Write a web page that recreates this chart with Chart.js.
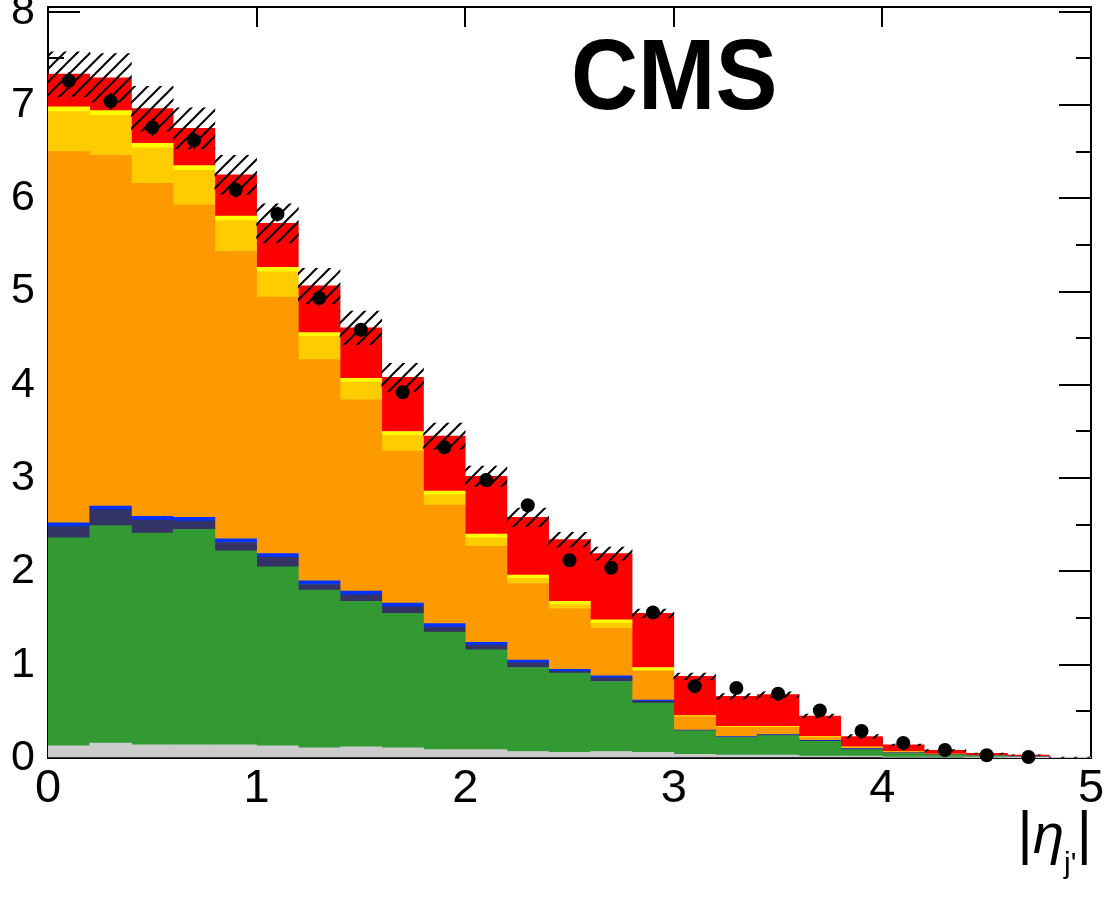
<!DOCTYPE html>
<html>
<head>
<meta charset="utf-8">
<script src="https://cdn.jsdelivr.net/npm/chart.js@4.4.0/dist/chart.umd.min.js"></script>
<style>
  html, body { margin: 0; padding: 0; background: #fff; }
  #wrap { position: relative; width: 1104px; height: 897px; overflow: hidden; }
  #cms {
    position: absolute; left: 571px; top: 24px;
    font: bold 101px "Liberation Sans", Arial, sans-serif; line-height: 101px;
    transform: scaleX(0.92); transform-origin: left top; white-space: nowrap;
  }
  #xtitle {
    position: absolute; right: 12px; top: 803px;
    font: 60px "Liberation Sans", Arial, sans-serif; line-height: 60px; white-space: nowrap;
  }
  #xtitle i { font-size: 56px; }
  #xtitle sub { font-size: 30px; vertical-align: -20px; }
</style>
</head>
<body>
<div id="wrap">
  <canvas id="myChart"></canvas>
  <div id="cms">CMS</div>
  <div id="xtitle">|<i>η</i><sub>j'</sub>|</div>
</div>
<script>
// bin centres of |eta_j'| (bin width 0.2)
const etaBins = [0.1, 0.3, 0.5, 0.7, 0.9, 1.1, 1.3, 1.5, 1.7, 1.9, 2.1, 2.3, 2.5, 2.7, 2.9,
                 3.1, 3.3, 3.5, 3.7, 3.9, 4.1, 4.3, 4.5, 4.7, 4.9];

// stacked contributions, bottom to top
const gray   = [0.13, 0.16, 0.14, 0.14, 0.14, 0.13, 0.11, 0.12, 0.11, 0.09, 0.09, 0.07, 0.06, 0.07, 0.06, 0.04, 0.03, 0.03, 0.02, 0.02, 0.01, 0.01, 0.005, 0.003, 0.002];
const green  = [2.23, 2.33, 2.27, 2.31, 2.08, 1.92, 1.69, 1.56, 1.44, 1.26, 1.07, 0.90, 0.85, 0.75, 0.53, 0.25, 0.19, 0.21, 0.16, 0.07, 0.04, 0.02, 0.015, 0.008, 0.003];
const navy   = [0.12, 0.17, 0.14, 0.09, 0.09, 0.10, 0.06, 0.07, 0.07, 0.05, 0.05, 0.05, 0.02, 0.04, 0.02, 0.005, 0.005, 0.005, 0.005, 0.005, 0.003, 0.002, 0.001, 0.001, 0];
const blue   = [0.04, 0.04, 0.04, 0.04, 0.04, 0.04, 0.04, 0.04, 0.04, 0.04, 0.03, 0.03, 0.02, 0.02, 0.01, 0.005, 0.005, 0.005, 0.005, 0.005, 0.002, 0.001, 0.001, 0.001, 0];
const orange = [3.98, 3.76, 3.57, 3.35, 3.08, 2.75, 2.37, 2.05, 1.63, 1.27, 1.03, 0.82, 0.65, 0.51, 0.31, 0.14, 0.10, 0.08, 0.03, 0.01, 0.01, 0.005, 0.005, 0.003, 0.001];
const gold   = [0.43, 0.43, 0.38, 0.37, 0.33, 0.27, 0.25, 0.19, 0.17, 0.11, 0.09, 0.055, 0.045, 0.055, 0.01, 0.005, 0.005, 0.005, 0.005, 0.005, 0.003, 0.002, 0.001, 0.001, 0];
const yellow = [0.05, 0.05, 0.05, 0.05, 0.05, 0.05, 0.04, 0.04, 0.04, 0.04, 0.04, 0.035, 0.035, 0.035, 0.03, 0.01, 0.005, 0.005, 0.005, 0.005, 0.002, 0.002, 0.001, 0.001, 0];
const red    = [0.35, 0.35, 0.37, 0.40, 0.44, 0.47, 0.50, 0.54, 0.58, 0.59, 0.62, 0.62, 0.66, 0.71, 0.58, 0.42, 0.32, 0.34, 0.22, 0.11, 0.07, 0.04, 0.02, 0.012, 0.002];

// uncertainty on the total prediction (hatched band, +-)
const mcUnc  = [0.24, 0.26, 0.24, 0.22, 0.21, 0.21, 0.19, 0.18, 0.15, 0.14, 0.11, 0.10, 0.08, 0.07, 0.045, 0.035, 0.03, 0.03, 0.02, 0.02, 0.01, 0.008, 0.005, 0.003, 0.002];

// data points
const dataVals = [7.26, 7.04, 6.76, 6.62, 6.09, 5.83, 4.93, 4.59, 3.92, 3.33, 2.98, 2.71, 2.12, 2.04, 1.56, 0.77, 0.75, 0.69, 0.51, 0.29, 0.16, 0.085, 0.03, 0.01, null];
const dataErr  = [0.09, 0.09, 0.09, 0.09, 0.08, 0.08, 0.08, 0.07, 0.07, 0.06, 0.06, 0.06, 0.05, 0.05, 0.04, 0.03, 0.03, 0.03, 0.02, 0.02, 0.01, 0.01, 0.01, 0.005, null];

const xTicks = [0, 1, 2, 3, 4, 5];
const yMajorTicks = [0, 1, 2, 3, 4, 5, 6, 7, 8];
const yMinorTicks = [0.5, 1.5, 2.5, 3.5, 4.5, 5.5, 6.5, 7.5];
const yMax = 8.05;

const components = [gray, green, navy, blue, orange, gold, yellow, red];
const total = etaBins.map((_, i) => components.reduce((s, arr) => s + arr[i], 0));

function makeHatch() { //-- diagonal "/" hatch like ROOT fill style
    const c = document.createElement('canvas');
    c.width = 13; c.height = 13;
    const g = c.getContext('2d');
    g.strokeStyle = '#000';
    g.lineWidth = 2;
    g.beginPath();
    g.moveTo(0, 13); g.lineTo(13, 0);
    g.moveTo(-2, 2); g.lineTo(2, -2);
    g.moveTo(11, 15); g.lineTo(15, 11);
    g.stroke();
    return g.createPattern(c, 'repeat');
}

const setTicks = (list) => (scale) => { scale.ticks = list.map(v => ({ value: v })); };
const black = '#000';

function stackSet(label, values, color) {
    return {
        label: label,
        data: values,
        backgroundColor: color,
        borderWidth: 0,
        grouped: false,
        barPercentage: 1,
        categoryPercentage: 1,
        xAxisID: 'x',
        yAxisID: 'y'
    };
}

function tickAxis(position, ticks, len, showBorder, extra) {
    const horiz = position === 'top' || position === 'bottom';
    return Object.assign({
        type: 'linear',
        position: position,
        offset: false,
        min: 0,
        max: horiz ? 5 : yMax,
        afterBuildTicks: setTicks(ticks),
        ticks: { display: false },
        grid: { drawOnChartArea: false, offset: false, tickLength: len, lineWidth: 2, color: black },
        border: { display: showBorder, color: black, width: 2 },
        afterFit(s) {
            if (horiz) s.height = 0; else s.width = 0;
            s.paddingTop = 0; s.paddingBottom = 0; s.paddingLeft = 0; s.paddingRight = 0;
        }
    }, extra || {});
}

const ctx = document.getElementById('myChart').getContext('2d');

new Chart(ctx, {
    type: 'bar',
    data: {
        labels: etaBins.map(String),
        datasets: [
            stackSet('gray', gray, '#cccccc'),
            stackSet('green', green, '#339933'),
            stackSet('navy', navy, '#333366'),
            stackSet('blue', blue, '#0033ff'),
            stackSet('orange', orange, '#ff9900'),
            stackSet('gold', gold, '#ffcc00'),
            stackSet('yellow', yellow, '#ffff00'),
            stackSet('red', red, '#ff0000'),
            {
                label: 'uncertainty',
                data: total.map((t, i) => [t - mcUnc[i], t + mcUnc[i]]),
                backgroundColor: makeHatch(),
                borderWidth: 0,
                grouped: false,
                barPercentage: 1,
                categoryPercentage: 1,
                xAxisID: 'x',
                yAxisID: 'y2',
                order: -1
            },
            {
                label: 'data error',
                data: dataVals.map((v, i) => v === null ? null : [v - dataErr[i], v + dataErr[i]]),
                backgroundColor: black,
                borderWidth: 0,
                grouped: false,
                barPercentage: 0.05,
                categoryPercentage: 1,
                xAxisID: 'x',
                yAxisID: 'y2',
                order: -2
            },
            {
                type: 'scatter',
                label: 'data',
                data: dataVals.map((v, i) => ({ x: etaBins[i], y: v })).filter(p => p.y !== null),
                backgroundColor: black,
                borderWidth: 0,
                pointRadius: 7,
                clip: false,
                xAxisID: 'xl',
                yAxisID: 'y2',
                order: -3
            }
        ]
    },
    options: {
        responsive: true,
        maintainAspectRatio: false,
        animation: false,
        events: [],
        layout: { padding: { top: 6, right: 13, left: 0, bottom: 0 } },
        plugins: { legend: { display: false }, tooltip: { enabled: false } },
        scales: {
            x: { type: 'category', display: false, offset: true },
            xl: {
                type: 'linear', position: 'bottom', min: 0, max: 5, offset: false,
                afterBuildTicks: setTicks(xTicks),
                ticks: {
                    color: black, padding: 23, autoSkip: false, maxRotation: 0,
                    font: { family: 'Liberation Sans', size: 47 },
                    callback: v => String(v)
                },
                grid: { drawOnChartArea: false, offset: false, tickLength: -20, lineWidth: 2, color: black },
                border: { display: true, color: black, width: 2 },
                afterFit(s) { s.height = 139; s.paddingLeft = 0; s.paddingRight = 0; }
            },
            xt: tickAxis('top', xTicks, -20, true),
            y: {
                type: 'linear', position: 'left', stacked: true, weight: 1, min: 0, max: yMax,
                afterBuildTicks: setTicks(yMajorTicks),
                ticks: {
                    color: black, padding: 45, autoSkip: false,
                    font: { family: 'Liberation Sans', size: 43 },
                    callback: v => String(v)
                },
                grid: { drawOnChartArea: false, tickLength: -32, lineWidth: 2, color: black },
                border: { display: true, color: black, width: 2 },
                afterFit(s) { s.width = 48; s.paddingTop = 0; s.paddingBottom = 0; }
            },
            ym: tickAxis('left', yMinorTicks, -16, false, { weight: 0 }),
            yr: tickAxis('right', yMajorTicks, -32, true, { weight: 0 }),
            yrm: tickAxis('right', yMinorTicks, -15, false, { weight: 1 }),
            y2: { type: 'linear', display: false, stacked: false, min: 0, max: yMax }
        }
    }
});
</script>
</body>
</html>
